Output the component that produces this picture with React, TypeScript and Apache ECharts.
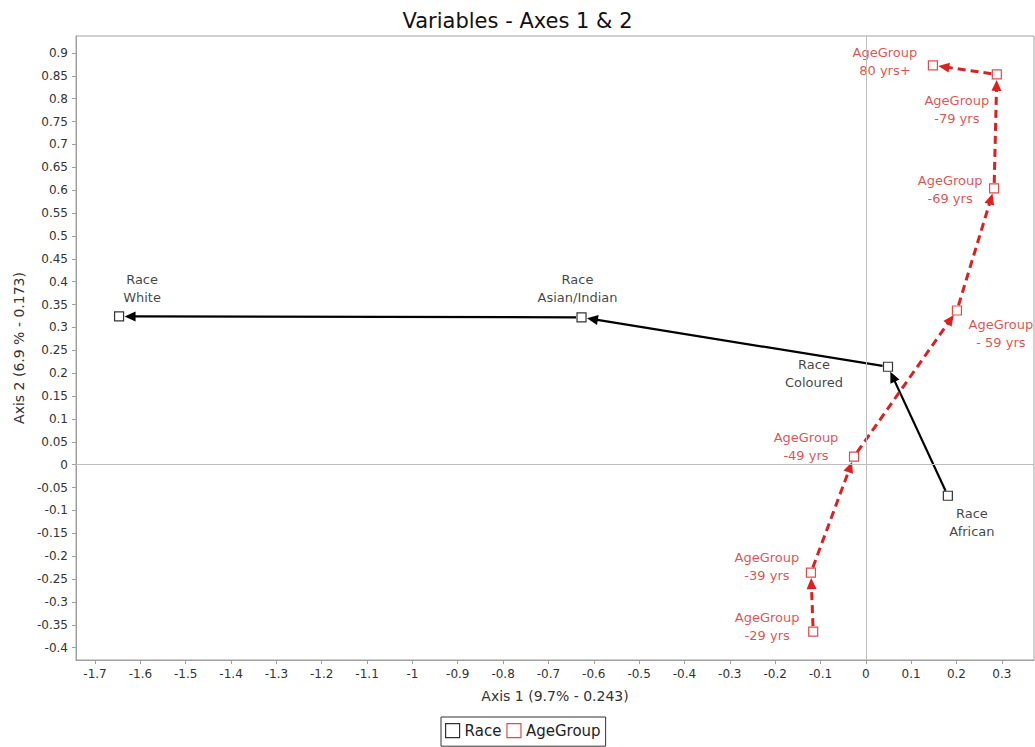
import React, { useEffect, useRef } from "react";
import * as echarts from "echarts";

// ---- Data ----
// Race categories, in arrow order (African -> Coloured -> Asian/Indian -> White)
const raceLabels = ["Race\nAfrican", "Race\nColoured", "Race\nAsian/Indian", "Race\nWhite"];
const raceX = [0.181, 0.049, -0.627, -1.647];
const raceY = [-0.068, 0.214, 0.322, 0.324];

// AgeGroup categories, in arrow order (youngest -> oldest)
const ageLabels = [
  "AgeGroup\n-29 yrs",
  "AgeGroup\n-39 yrs",
  "AgeGroup\n-49 yrs",
  "AgeGroup\n- 59 yrs",
  "AgeGroup\n-69 yrs",
  "AgeGroup\n-79 yrs",
  "AgeGroup\n80 yrs+",
];
const ageX = [-0.116, -0.121, -0.026, 0.201, 0.283, 0.289, 0.148];
const ageY = [-0.365, -0.236, 0.0175, 0.337, 0.604, 0.853, 0.873];

// Tick labels
const xTicks = [-1.7, -1.6, -1.5, -1.4, -1.3, -1.2, -1.1, -1, -0.9, -0.8, -0.7, -0.6, -0.5, -0.4, -0.3, -0.2, -0.1, 0, 0.1, 0.2, 0.3];
const yTicks = [-0.4, -0.35, -0.3, -0.25, -0.2, -0.15, -0.1, -0.05, 0, 0.05, 0.1, 0.15, 0.2, 0.25, 0.3, 0.35, 0.4, 0.45, 0.5, 0.55, 0.6, 0.65, 0.7, 0.75, 0.8, 0.85, 0.9];

// ---- Label placement (pixel offsets of label centre from the point) ----
const raceLabelOffsets = [[24, 27], [-74, 7], [-4, -29], [23, -28]];
const ageLabelOffsets = [[-46, -5], [-44, -6], [-48, -10], [44, 23], [-44, 1], [-40, 35], [-48, -4]];

const RED = "#dc1f1f";
const BLACK = "#000000";
const FONT = "DejaVu Sans";

function segments(xs: number[], ys: number[]) {
  const out: number[][] = [];
  for (let i = 0; i < xs.length - 1; i++) out.push([xs[i], ys[i], xs[i + 1], ys[i + 1]]);
  return out;
}

function arrowRenderer(color: string, dashed: boolean) {
  return (params: any, api: any) => {
    const p1 = api.coord([api.value(0), api.value(1)]);
    const p2 = api.coord([api.value(2), api.value(3)]);
    const dx = p2[0] - p1[0];
    const dy = p2[1] - p1[1];
    const len = Math.sqrt(dx * dx + dy * dy) || 1;
    const ux = dx / len;
    const uy = dy / len;
    const gap = 5.5;
    const headLen = 11;
    const headHalf = 5;
    const sx = p1[0] + ux * gap;
    const sy = p1[1] + uy * gap;
    const tx = p2[0] - ux * gap;
    const ty = p2[1] - uy * gap;
    const bx = tx - ux * headLen;
    const by = ty - uy * headLen;
    const px = -uy;
    const py = ux;
    return {
      type: "group",
      children: [
        {
          type: "line",
          shape: { x1: sx, y1: sy, x2: bx + ux * 2, y2: by + uy * 2 },
          style: {
            stroke: color,
            lineWidth: dashed ? 3 : 2.2,
            lineDash: dashed ? [8, 5] : null,
          },
        },
        {
          type: "polygon",
          shape: {
            points: [
              [tx, ty],
              [bx + px * headHalf, by + py * headHalf],
              [bx - px * headHalf, by - py * headHalf],
            ],
          },
          style: { fill: color },
        },
      ],
    };
  };
}

function pointData(xs: number[], ys: number[], labels: string[], offsets: number[][]) {
  return xs.map((x, i) => ({
    value: [x, ys[i]],
    name: labels[i],
    label: { offset: offsets[i] },
  }));
}

export default function App() {
  const ref = useRef<HTMLDivElement>(null);

  useEffect(() => {
    if (!ref.current) return;
    const chart = echarts.init(ref.current, undefined, { renderer: "svg" });

    const axisColor = "#a0a0a0";
    const tickLabelStyle = { color: "#333", fontFamily: FONT, fontSize: 12 };

    const pointLabel = (color: string) => ({
      show: true,
      position: "inside",
      formatter: (p: any) => p.name,
      color,
      fontFamily: FONT,
      fontSize: 13,
      lineHeight: 18,
      align: "center",
      verticalAlign: "middle",
    });

    chart.setOption({
      animation: false,
      backgroundColor: "#ffffff",
      title: {
        text: "Variables - Axes 1 & 2",
        left: "center",
        top: 5,
        textStyle: { fontFamily: FONT, fontSize: 21, fontWeight: "normal", color: "#111" },
      },
      legend: {
        left: 441,
        top: 717,
        orient: "horizontal",
        padding: [6, 5, 8, 4],
        itemGap: 5,
        itemWidth: 14,
        itemHeight: 14,
        borderColor: "#333",
        borderWidth: 1,
        selectedMode: false,
        textStyle: { fontFamily: FONT, fontSize: 15, color: "#222", padding: [0, 0, 0, 0] },
        data: [
          { name: "Race", icon: "rect", itemStyle: { color: "#fff", borderColor: BLACK, borderWidth: 1.2 } },
          { name: "AgeGroup", icon: "rect", itemStyle: { color: "#fff", borderColor: RED, borderWidth: 1.2 } },
        ],
      },
      grid: { left: 76, top: 36, right: 1, bottom: 87, containLabel: false, show: true, borderColor: axisColor, borderWidth: 1 },
      xAxis: {
        type: "value",
        min: -1.742,
        max: 0.371,
        name: "Axis 1 (9.7% - 0.243)",
        nameLocation: "middle",
        nameGap: 29,
        nameTextStyle: { fontFamily: FONT, fontSize: 14, color: "#333" },
        axisLine: { show: true, onZero: false, lineStyle: { color: axisColor } },
        axisTick: { show: true, customValues: xTicks, length: 4, lineStyle: { color: axisColor } },
        axisLabel: { customValues: xTicks, margin: 8, formatter: (v: number) => String(v), ...tickLabelStyle },
        splitLine: { show: false },
      },
      yAxis: {
        type: "value",
        min: -0.427,
        max: 0.937,
        name: "Axis 2 (6.9 % - 0.173)",
        nameLocation: "middle",
        nameGap: 50,
        nameTextStyle: { fontFamily: FONT, fontSize: 14, color: "#333" },
        axisLine: { show: true, onZero: false, lineStyle: { color: axisColor } },
        axisTick: { show: true, customValues: yTicks, length: 4, lineStyle: { color: axisColor } },
        axisLabel: { customValues: yTicks, margin: 8, formatter: (v: number) => String(v), ...tickLabelStyle },
        splitLine: { show: false },
      },
      series: [
        {
          name: "zero-lines",
          type: "scatter",
          data: [],
          silent: true,
          markLine: {
            silent: true,
            symbol: "none",
            label: { show: false },
            lineStyle: { color: "#bdbdbd", width: 1, type: "solid" },
            data: [{ xAxis: 0 }, { yAxis: 0 }],
          },
          z: 1,
        },
        {
          name: "Race arrows",
          type: "custom",
          renderItem: arrowRenderer(BLACK, false),
          encode: { x: [0, 2], y: [1, 3] },
          data: segments(raceX, raceY),
          silent: true,
          z: 2,
        },
        {
          name: "AgeGroup arrows",
          type: "custom",
          renderItem: arrowRenderer(RED, true),
          encode: { x: [0, 2], y: [1, 3] },
          data: segments(ageX, ageY),
          silent: true,
          z: 2,
        },
        {
          name: "Race",
          type: "scatter",
          symbol: "rect",
          symbolSize: 9,
          itemStyle: { color: "#fff", borderColor: BLACK, borderWidth: 1.2 },
          label: pointLabel("#111"),
          data: pointData(raceX, raceY, raceLabels, raceLabelOffsets),
          z: 3,
        },
        {
          name: "AgeGroup",
          type: "scatter",
          symbol: "rect",
          symbolSize: 9,
          itemStyle: { color: "#fff", borderColor: RED, borderWidth: 1.2 },
          label: pointLabel(RED),
          data: pointData(ageX, ageY, ageLabels, ageLabelOffsets),
          z: 3,
        },
      ],
    });

    return () => chart.dispose();
  }, []);

  return (
    <div
      ref={ref}
      style={{ position: "fixed", left: 0, top: 0, width: 1035, height: 747, background: "#fff" }}
    />
  );
}
